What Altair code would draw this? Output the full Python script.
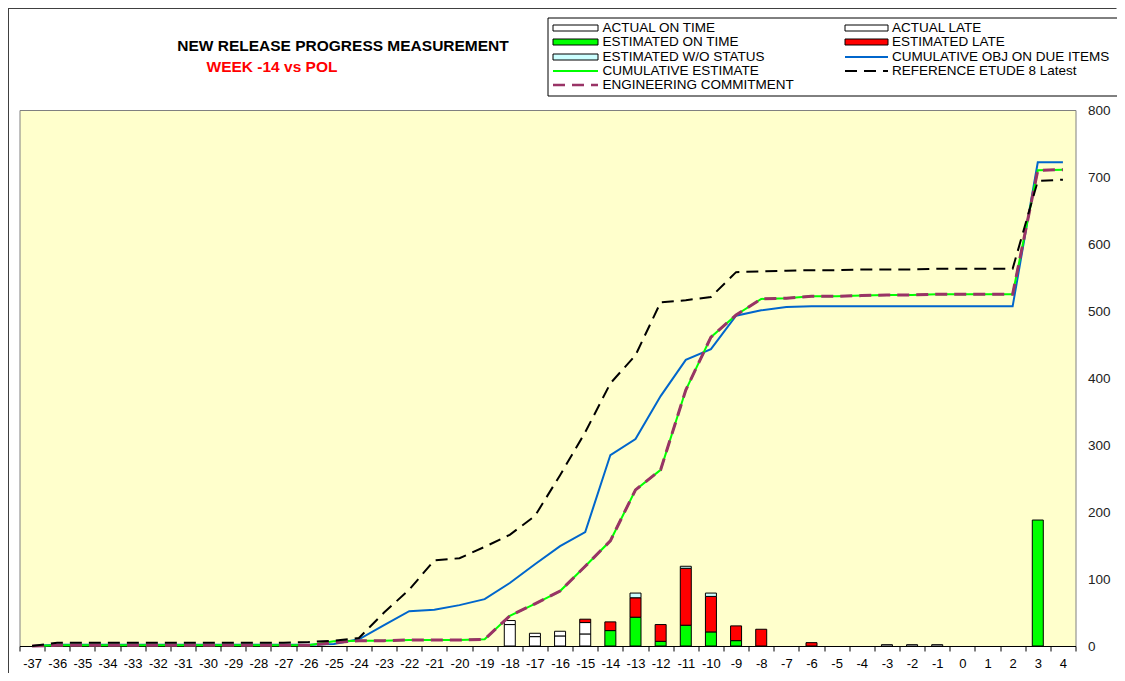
import altair as alt
import pandas as pd

# ---------------- data ----------------
weeks = list(range(-37, 5))

# stacked bars (sparse: week -> value)
actual_on_time = {-18: 32, -17: 14, -16: 15, -15: 18}
actual_late = {-18: 6, -17: 5, -16: 7, -15: 17, -3: 2, -2: 2, -1: 2}
estimated_on_time = {-14: 23, -13: 43, -12: 7, -11: 31, -10: 21, -9: 8, 3: 188}
estimated_late = {-15: 5, -14: 13, -13: 29, -12: 25, -11: 85, -10: 53, -9: 22, -8: 25, -6: 5}
estimated_wo_status = {-13: 7, -11: 3, -10: 5}

# cumulative lines (one value per week, -37 .. 4)
cum_obj_due = [0] + [2] * 11 + [3, 10, 31, 52, 54, 61, 70, 94, 122, 149, 170, 285, 309,
                                373, 427, 443, 493, 501, 506] + [507] * 9 + [722, 722]
cum_estimate = [0] + [1] * 11 + [7, 8, 8, 9, 9, 9, 10, 45, 63, 82, 119, 157, 233, 263,
                                 382, 461, 494, 518, 519, 522, 522, 523, 524, 524, 525,
                                 525, 525, 525, 710, 711]
eng_commitment = [0] + [1] * 11 + [5, 8, 8, 9, 9, 9, 10, 45, 63, 82, 119, 157, 233, 263,
                                   382, 461, 494, 518, 519, 522, 522, 523, 524, 524, 525,
                                   525, 525, 525, 710, 711]
reference_etude = [0] + [5] * 10 + [6, 8, 12, 50, 84, 128, 131, 148, 166, 194, 255, 319,
                                    392, 434, 513, 516, 521, 558, 559, 560, 561, 561, 562,
                                    562, 562, 563, 563, 563, 563, 694, 696]

bar_names = ["ACTUAL ON TIME", "ACTUAL LATE", "ESTIMATED ON TIME", "ESTIMATED LATE",
             "ESTIMATED W/O STATUS"]
bar_colors = ["#FFFFFF", "#FFFFFF", "#00FF00", "#FF0000", "#CCFFFF"]
bar_series = [actual_on_time, actual_late, estimated_on_time, estimated_late, estimated_wo_status]

# ---------------- tables ----------------
rows = []
for k, (name, d) in enumerate(zip(bar_names, bar_series)):
    for w in weeks:
        v = d.get(w, 0)
        if v:
            rows.append({"week": w, "series": name, "value": v, "ord": k})
bars_df = pd.DataFrame(rows)

def line_df(vals):
    return pd.DataFrame({"week": weeks, "value": vals})

FONT = "Liberation Sans"
xscale = alt.Scale(domain=weeks, paddingInner=0, paddingOuter=0)
yscale = alt.Scale(domain=[0, 800], nice=False)

x_axis = alt.Axis(title=None, labelAngle=0, tickBand="extent", domainColor="black",
                  tickColor="black", tickSize=5, labelFontSize=13, labelFont=FONT,
                  labelColor="black", labelPadding=6, grid=False)
y_axis = alt.Axis(title=None, orient="right", values=list(range(0, 801, 100)),
                  ticks=False, tickSize=0, domain=False, grid=False,
                  labelPadding=12, labelFontSize=13.5, labelFont=FONT, labelColor="#222222")

bars = alt.Chart(bars_df).mark_bar(size=11, stroke="black", strokeWidth=1).encode(
    x=alt.X("week:O", scale=xscale, axis=x_axis),
    y=alt.Y("value:Q", stack="zero", scale=yscale, axis=y_axis),
    color=alt.Color("series:N", scale=alt.Scale(domain=bar_names, range=bar_colors), legend=None),
    order=alt.Order("ord:Q"),
)

def line_layer(vals, color, width, dash=None):
    kw = dict(color=color, strokeWidth=width)
    if dash:
        kw["strokeDash"] = dash
    return alt.Chart(line_df(vals)).mark_line(**kw).encode(
        x=alt.X("week:O", scale=xscale, bandPosition=0.5, axis=x_axis),
        y=alt.Y("value:Q", scale=yscale, axis=y_axis),
    )

lines = [
    line_layer(cum_obj_due, "#0066CC", 2),
    line_layer(cum_estimate, "#00FF00", 2),
    line_layer(eng_commitment, "#993366", 3, [12, 7]),
    line_layer(reference_etude, "#000000", 2, [12, 7]),
]

# ---------------- titles, legend, frame (decoration) ----------------
one = alt.Data(values=[{}])
deco = []

deco.append(alt.Chart(one).mark_rule(color="#404040", strokeWidth=1).encode(
    x=alt.value(-11), y=alt.value(-102), y2=alt.value(563)))
deco.append(alt.Chart(one).mark_rule(color="#404040", strokeWidth=1).encode(
    x=alt.value(-11), x2=alt.value(1097), y=alt.value(-101.5)))

deco.append(alt.Chart(one).mark_text(font=FONT, fontSize=15.5, fontWeight="bold",
                                     color="black", align="center", baseline="middle").encode(
    x=alt.value(323.5), y=alt.value(-64), text=alt.value("NEW RELEASE PROGRESS MEASUREMENT")))
deco.append(alt.Chart(one).mark_text(font=FONT, fontSize=15.5, fontWeight="bold",
                                     color="#FF0000", align="center", baseline="middle").encode(
    x=alt.value(252.5), y=alt.value(-43), text=alt.value("WEEK -14 vs POL")))

# legend box
deco.append(alt.Chart(one).mark_rect(fill="white", stroke="black", strokeWidth=1).encode(
    x=alt.value(528.5), x2=alt.value(1100), y=alt.value(-92), y2=alt.value(-14)))

legend_items = [
    ("ACTUAL ON TIME", "rect", "#FFFFFF", None, 0, 0),
    ("ACTUAL LATE", "rect", "#FFFFFF", None, 1, 0),
    ("ESTIMATED ON TIME", "rect", "#00FF00", None, 0, 1),
    ("ESTIMATED LATE", "rect", "#FF0000", None, 1, 1),
    ("ESTIMATED W/O STATUS", "rect", "#CCFFFF", None, 0, 2),
    ("CUMULATIVE OBJ ON DUE ITEMS", "line", "#0066CC", None, 1, 2),
    ("CUMULATIVE ESTIMATE", "line", "#00FF00", None, 0, 3),
    ("REFERENCE ETUDE 8 Latest", "line", "#000000", [12, 7], 1, 3),
    ("ENGINEERING COMMITMENT", "line", "#993366", [12, 7], 0, 4),
]
row_y = [-82, -68, -53, -39, -25]
col_x0 = [533.5, 825.5]
col_x1 = [578.5, 868.5]
col_tx = [583, 872.5]
for label, kind, color, dash, c, r in legend_items:
    y = row_y[r]
    if kind == "rect":
        deco.append(alt.Chart(one).mark_rect(fill=color, stroke="black", strokeWidth=1).encode(
            x=alt.value(col_x0[c]), x2=alt.value(col_x1[c]),
            y=alt.value(y - 3), y2=alt.value(y + 3)))
    else:
        kw = dict(color=color, strokeWidth=2 if color != "#993366" else 2.5)
        if dash:
            kw["strokeDash"] = dash
        deco.append(alt.Chart(one).mark_rule(**kw).encode(
            x=alt.value(col_x0[c]), x2=alt.value(col_x1[c]), y=alt.value(y)))
    deco.append(alt.Chart(one).mark_text(font=FONT, fontSize=13.5, color="black",
                                         align="left", baseline="middle").encode(
        x=alt.value(col_tx[c]), y=alt.value(y), text=alt.value(label)))

chart = alt.layer(bars, *lines, *deco).properties(
    width=1056, height=536,
    autosize=alt.AutoSizeParams(type="none"),
    padding={"left": 11.5, "top": 102, "right": 41.5, "bottom": 27},
).configure_view(
    fill="#FFFFCC", stroke="#808080", strokeWidth=1
)

chart.save("out.html", embed_options={"renderer": "svg", "actions": False})
